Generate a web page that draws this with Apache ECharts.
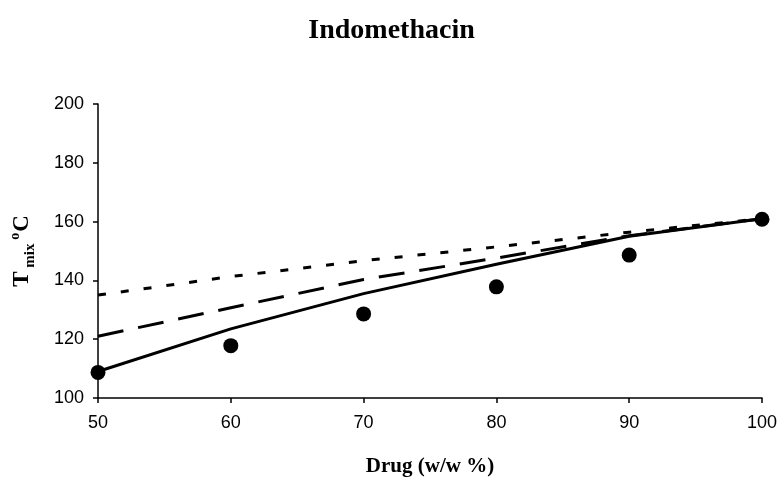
<!DOCTYPE html>
<html><head><meta charset="utf-8">
<script src="https://cdn.jsdelivr.net/npm/echarts@6/dist/echarts.min.js"></script>
<style>html,body{margin:0;padding:0;background:#fff}#c{width:783px;height:489px}</style>
</head><body><div id="c"></div>
<script>
const drug = [50, 60, 70, 80, 90, 100];
const measured = [108.7, 117.8, 128.6, 137.8, 148.6, 160.8];
const solidLine = [109, 123.5, 135.5, 145.5, 155, 161];
const dashedLine = [121, 130.7, 140.3, 147.6, 155.2, 161];
const dottedLine = [135, 141.3, 146.7, 151.4, 156.4, 161];

const pairs = a => drug.map((x, i) => [x, a[i]]);
const chart = echarts.init(document.getElementById('c'));
const lineSeries = (data, type, w) => ({
  type: 'line', data: pairs(data), showSymbol: false, symbol: 'none',
  lineStyle: { color: '#000', width: w, type: type }, z: 2
});
const serif = 'Liberation Serif';
chart.setOption({
  animation: false,
  title: {
    text: 'Indomethacin', left: 'center', top: 12,
    textStyle: { fontFamily: serif, fontWeight: 'bold', fontSize: 28, color: '#000' }
  },
  grid: { left: 98, right: 21, top: 104, bottom: 91 },
  xAxis: {
    type: 'value', min: 50, max: 100, interval: 10,
    name: 'Drug (w/w %)', nameLocation: 'middle', nameGap: 58,
    nameTextStyle: { fontFamily: serif, fontWeight: 'bold', fontSize: 21, color: '#000' },
    axisLine: { lineStyle: { color: '#000', width: 1.5 } },
    axisTick: { show: true, length: 5, lineStyle: { color: '#000', width: 1.5 } },
    axisLabel: { fontFamily: 'Liberation Sans', fontSize: 18, color: '#000', margin: 16 },
    splitLine: { show: false }
  },
  yAxis: {
    type: 'value', min: 100, max: 200, interval: 20,
    name: '{b|T}{s| mix }{sup|o}{b|C}', nameLocation: 'middle', nameGap: 64, nameRotate: 90,
    nameTextStyle: {
      color: '#000',
      rich: {
        b: { fontFamily: serif, fontWeight: 'bold', fontSize: 23, color: '#000', verticalAlign: 'bottom', lineHeight: 26 },
        s: { fontFamily: serif, fontWeight: 'bold', fontSize: 15, color: '#000', verticalAlign: 'bottom', lineHeight: 16, padding: [0, 0, -4, 0] },
        sup: { fontFamily: serif, fontWeight: 'bold', fontSize: 14, color: '#000', verticalAlign: 'top', lineHeight: 14, padding: [0, 1, 8, 0] }
      }
    },
    axisLine: { show: true, lineStyle: { color: '#000', width: 1.5 } },
    axisTick: { show: true, length: 5, lineStyle: { color: '#000', width: 1.5 } },
    axisLabel: { fontFamily: 'Liberation Sans', fontSize: 18, color: '#000', margin: 14 },
    splitLine: { show: false }
  },
  series: [
    lineSeries(dottedLine, [8, 15], 3),
    lineSeries(dashedLine, [26, 15], 3),
    lineSeries(solidLine, 'solid', 3),
    { type: 'scatter', data: pairs(measured), symbol: 'circle', symbolSize: 15,
      itemStyle: { color: '#000', opacity: 1 }, z: 3 }
  ]
});
</script></body></html>
